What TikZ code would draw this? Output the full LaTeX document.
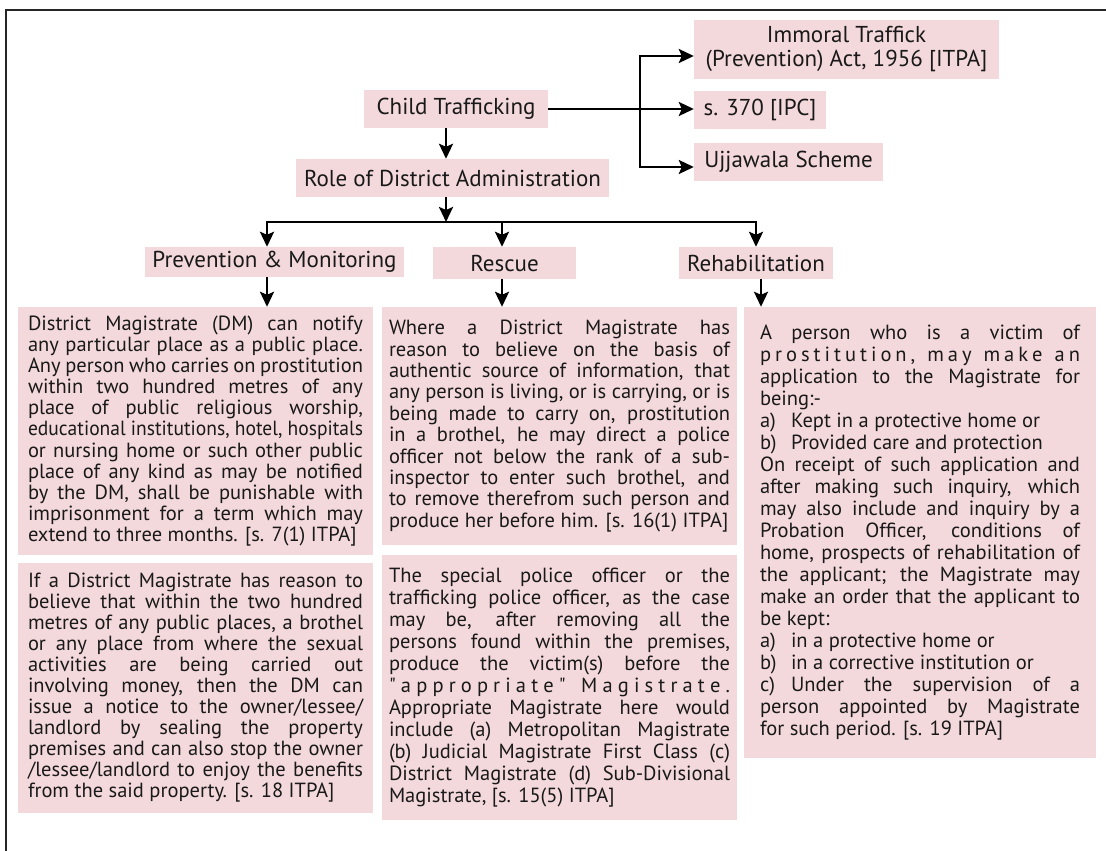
\documentclass[tikz,border=0pt]{standalone}
\usepackage{fontspec}
\usepackage{graphicx}
\setmainfont{PT Sans}[Ligatures=TeXOff]
\usetikzlibrary{arrows.meta}
\definecolor{boxpink}{RGB}{244,217,220}

\begin{document}
\begin{tikzpicture}
  [x=1pt,y=-1pt,every node/.style={fill=boxpink,inner sep=0pt,text=black!90},
   hd/.style={font=\fontsize{23}{24}\selectfont,align=center},
   txt/.style={font=\fontsize{20.5}{#1}\selectfont,align=justify},
   arr/.style={-{Stealth[length=15pt,width=14pt,inset=3pt]},line width=2.6pt}]
  \useasboundingbox (0,0) rectangle (1106,851);
  \draw[line width=2pt,black!85] (6,851) -- (6,10) -- (1106,10);

  \node[hd,minimum width=184pt,minimum height=38pt] (C_1) at (456,109) {Child Trafficking};
  \node[hd,minimum width=305pt,minimum height=59pt] (L_1) at (846.5,49.5) {Immoral Traffick\\(Prevention) Act, 1956 [ITPA]};
  \node[hd,minimum width=132pt,minimum height=38pt] (L_2) at (760,110) {s. 370 [IPC]};
  \node[hd,minimum width=189pt,minimum height=38pt] (L_3) at (788.5,162) {Ujjawala Scheme};
  \node[hd,minimum width=313pt,minimum height=38pt] (R_1) at (452.5,178) {Role of District Administration};
  \node[hd,minimum width=259pt,minimum height=30pt] (B_1) at (274.5,262) {Prevention \& Monitoring};
  \node[hd,minimum width=143pt,minimum height=32pt] (B_2) at (504.5,263) {Rescue};
  \node[hd,minimum width=154pt,minimum height=32pt] (B_3) at (756,263) {Rehabilitation};

  \node[txt=21.1,text width=335pt,minimum width=355pt,minimum height=248pt] (T_1) at (195.5,431)
    {District Magistrate (DM) can notify\linebreak
     any particular place as a public place.\linebreak
     Any person who carries on prostitution\linebreak
     within two hundred metres of any\linebreak
     place of public religious worship,\linebreak
     \resizebox{\linewidth}{\height}{educational institutions, hotel, hospitals}\linebreak
     or nursing home or such other public\linebreak
     place of any kind as may be notified\linebreak
     by the DM, shall be punishable with\linebreak
     imprisonment for a term which may\linebreak
     extend to three months. [s. 7(1) ITPA]};
  \node[txt=21,text width=335pt,minimum width=355pt,minimum height=250pt] (T_2) at (195.5,688)
    {If a District Magistrate has reason to\linebreak
     believe that within the two hundred\linebreak
     metres of any public places, a brothel\linebreak
     or any place from where the sexual\linebreak
     activities are being carried out\linebreak
     involving money, then the DM can\linebreak
     issue a notice to the owner/lessee/\linebreak
     landlord by sealing the property\linebreak
     premises and can also stop the owner\linebreak
     /lessee/landlord to enjoy the benefits\linebreak
     from the said property. [s. 18 ITPA]};
  \node[txt=21.4,text width=341pt,minimum width=355pt,minimum height=238pt] (T_3) at (559.5,426)
    {Where a District Magistrate has\linebreak
     reason to believe on the basis of\linebreak
     authentic source of information, that\linebreak
     any person is living, or is carrying, or is\linebreak
     being made to carry on, prostitution\linebreak
     in a brothel, he may direct a police\linebreak
     officer not below the rank of a sub-\linebreak
     inspector to enter such brothel, and\linebreak
     to remove therefrom such person and\linebreak
     produce her before him. [s. 16(1) ITPA]};
  \node[txt=22,text width=341pt,minimum width=355pt,minimum height=265pt] (T_4) at (559.5,687.5)
    {The special police officer or the\linebreak
     trafficking police officer, as the case\linebreak
     may be, after removing all the\linebreak
     persons found within the premises,\linebreak
     produce the victim(s) before the\linebreak
     \makebox[\linewidth][s]{" a p p r o p r i a t e "\ \ \ M a g i s t r a t e .}\linebreak
     Appropriate Magistrate here would\linebreak
     include (a) Metropolitan Magistrate\linebreak
     (b) Judicial Magistrate First Class (c)\linebreak
     District Magistrate (d) Sub-Divisional\linebreak
     Magistrate, [s. 15(5) ITPA]};
  \node[txt=22,text width=320pt,minimum width=352pt,minimum height=451pt] (T_5) at (920,532.5)
    {A person who is a victim of\linebreak
     \makebox[\linewidth][s]{p r o s t i t u t i o n ,\ \ \ m a y\ \ \ m a k e\ \ \ a n}\linebreak
     application to the Magistrate for\linebreak
     being:-\newline
     \makebox[31pt][l]{a)}Kept in a protective home or\newline
     \makebox[31pt][l]{b)}Provided care and protection\newline
     On receipt of such application and\linebreak
     after making such inquiry, which\linebreak
     may also include and inquiry by a\linebreak
     Probation Officer, conditions of\linebreak
     home, prospects of rehabilitation of\linebreak
     the applicant; the Magistrate may\linebreak
     make an order that the applicant to\linebreak
     be kept:\newline
     \makebox[31pt][l]{a)}in a protective home or\newline
     \makebox[31pt][l]{b)}in a corrective institution or\par
     \noindent\hangindent=31pt\hangafter=1\makebox[31pt][l]{c)}Under the supervision of a\linebreak
     person appointed by Magistrate\linebreak
     for such period. [s. 19 ITPA]};

  \coordinate (J_1) at (640,109);
  \coordinate (J_2) at (446,222);
  \coordinate (J_3) at (267,222);
  \coordinate (J_4) at (756,222);
  \coordinate (J_5) at (502,222);
  \coordinate (J_6) at (761,222);

  \draw[arr] (C_1.east) -- (C_1.east -| L_2.west);
  \draw[arr] (J_1) |- ([yshift=-6.5pt]L_1.west);
  \draw[arr] (J_1) |- ([yshift=-5pt]L_3.west);
  \draw[arr] (C_1.south -| J_2) -- (R_1.north -| J_2);
  \draw[arr] (R_1.south -| J_2) -- (J_2);
  \draw[arr] (J_2) -| (J_3 |- B_1.north);
  \draw[arr] (J_2) -| (J_4 |- B_3.north);
  \draw[arr] (J_5) -- (J_5 |- B_2.north);
  \foreach \x/\from/\to in {J_3/B_1.south/T_1.north,J_5/B_2.south/T_3.north,J_6/B_3.south/T_5.north}
    \draw[arr] (\from -| \x) -- (\to -| \x);

\end{tikzpicture}
\end{document}
